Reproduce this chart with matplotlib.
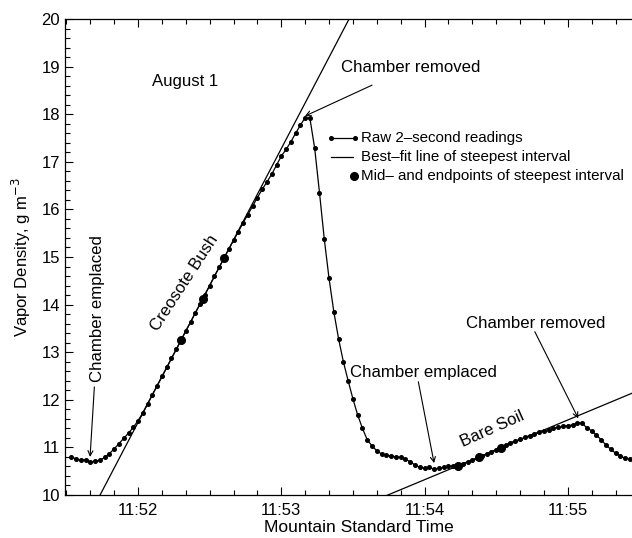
import numpy as np
import matplotlib
matplotlib.use("Agg")
import matplotlib.pyplot as plt

plt.rcParams['font.family'] = ['Liberation Sans', 'DejaVu Sans']

# ---- data (seconds relative to 11:52:00, 2-second readings) ----
t_start = -28
reading_step = 2
vapor = [
    10.80, 10.76, 10.73, 10.74, 10.69, 10.71, 10.73, 10.79, 10.87, 10.97,
    11.08, 11.19, 11.30, 11.42, 11.56, 11.73, 11.92, 12.11, 12.30, 12.49,
    12.68, 12.87, 13.06, 13.25, 13.45, 13.63, 13.83, 14.01, 14.21, 14.40,
    14.60, 14.78, 14.98, 15.16, 15.35, 15.53, 15.72, 15.89, 16.07, 16.25,
    16.42, 16.58, 16.74, 16.93, 17.12, 17.26, 17.42, 17.60, 17.77, 17.93,
    17.91, 17.28, 16.35, 15.38, 14.55, 13.85, 13.28, 12.80, 12.40, 12.02,
    11.68, 11.40, 11.16, 11.03, 10.93, 10.86, 10.83, 10.82, 10.80, 10.79,
    10.75, 10.70, 10.63, 10.58, 10.56, 10.58, 10.54, 10.57, 10.58, 10.60,
    10.61, 10.63, 10.66, 10.69, 10.73, 10.77, 10.82, 10.86, 10.91, 10.95,
    11.00, 11.05, 11.10, 11.14, 11.17, 11.21, 11.25, 11.28, 11.32, 11.35,
    11.37, 11.40, 11.42, 11.44, 11.46, 11.47, 11.52, 11.51, 11.41, 11.35,
    11.26, 11.16, 11.05, 10.96, 10.88, 10.82, 10.77, 10.76,
]
times = t_start + reading_step * np.arange(len(vapor))
vapor = np.array(vapor)

creosote_interval = (18, 36)   # steepest interval, seconds
soil_interval = (134, 152)

tick_secs = [0, 60, 120, 180]
tick_labels = ['11:52', '11:53', '11:54', '11:55']

# ---- figure ----
fig = plt.figure(figsize=(6.32, 5.38), dpi=100)
ax = fig.add_axes([65/632, 1-495/538, 1-65/632, (495-19)/538])
XL = (-30.6, 206.9)
ax.set_xlim(*XL)
ax.set_ylim(10, 20)

ax.plot(times, vapor, '-', color='black', lw=0.9, marker='o', ms=2.6, zorder=3)

for (a, b) in (creosote_interval, soil_interval):
    m = (times >= a) & (times <= b)
    k, c = np.polyfit(times[m], vapor[m], 1)
    xx = np.array(XL)
    ax.plot(xx, k*xx + c, color='black', lw=0.9, zorder=2)
    pts = np.array([a, (a+b)/2, b])
    ax.plot(pts, k*pts + c, 'o', color='black', ms=5.5, zorder=4)

# ticks
ax.set_xticks(tick_secs)
ax.set_xticklabels(tick_labels)
ax.set_xticks(np.arange(-30, 207, 10), minor=True)
ax.set_yticks(np.arange(10, 21, 1))
ax.set_yticks(np.arange(10, 20.01, 0.2), minor=True)
ax.tick_params(axis='both', which='both', direction='in', labelsize=12, width=0.8)
ax.tick_params(axis='x', which='both', top=True)
ax.tick_params(axis='y', which='both', right=False)
ax.tick_params(which='major', length=6)
ax.tick_params(which='minor', length=3.5)
ax.tick_params(axis='x', which='major', pad=6)
ax.spines['right'].set_visible(False)
for s in ('left', 'top', 'bottom'):
    ax.spines[s].set_linewidth(0.9)

ax.set_xlabel('Mountain Standard Time', fontsize=12.5)
ax.xaxis.set_label_coords((359 - 65) / 567, -0.052)
ax.set_ylabel('Vapor Density, g m$^{-3}$', fontsize=12, labelpad=6)

fs = 12.1
arrow = dict(arrowstyle='->', color='black', lw=0.8, shrinkA=0, shrinkB=0,
             mutation_scale=9)

ax.text(5.9, 18.68, 'August 1', fontsize=fs, ha='left', va='center')

ax.text(85, 18.99, 'Chamber removed', fontsize=fs, ha='left', va='center')
ax.annotate('', xy=(69.9, 17.96), xytext=(98, 18.61), arrowprops=arrow)

ax.text(-17.0, 12.38, 'Chamber emplaced', fontsize=fs, rotation=90,
        ha='center', va='bottom')
ax.annotate('', xy=(-20.1, 10.80), xytext=(-18.3, 12.27), arrowprops=arrow)

ax.text(19.5, 14.45, 'Creosote Bush', fontsize=fs, rotation=57,
        ha='center', va='center', rotation_mode='anchor')

ax.text(88.8, 12.58, 'Chamber emplaced', fontsize=fs, ha='left', va='center')
ax.annotate('', xy=(124, 10.67), xytext=(117.4, 12.38), arrowprops=arrow)

ax.text(137.4, 13.61, 'Chamber removed', fontsize=fs, ha='left', va='center')
ax.annotate('', xy=(184.4, 11.61), xytext=(166.2, 13.43), arrowprops=arrow)

ax.text(148.4, 11.39, 'Bare Soil', fontsize=fs, rotation=24,
        ha='center', va='center', rotation_mode='anchor')

# manual legend
px2t = lambda px: (px - 138) / 143.3 * 60
py2y = lambda py: 10 + (495 - py) / 47.6
lx0, lx1, ltx = px2t(331), px2t(355), px2t(361)
r1, r2, r3 = py2y(138), py2y(157), py2y(176)
ax.plot([lx0, lx1], [r1, r1], '-', color='black', lw=0.9, marker='o', ms=2.6)
ax.plot([lx0, lx1 - 1.0], [r2, r2], '-', color='black', lw=0.9)
ax.plot([px2t(354)], [r3], 'o', color='black', ms=5.5)
lfs = 10.9
ax.text(ltx, r1, 'Raw 2–second readings', fontsize=lfs, va='center', ha='left')
ax.text(ltx, r2, 'Best–fit line of steepest interval', fontsize=lfs, va='center', ha='left')
ax.text(ltx, r3, 'Mid– and endpoints of steepest interval', fontsize=lfs, va='center', ha='left')

fig.savefig('out.png', dpi=100)
